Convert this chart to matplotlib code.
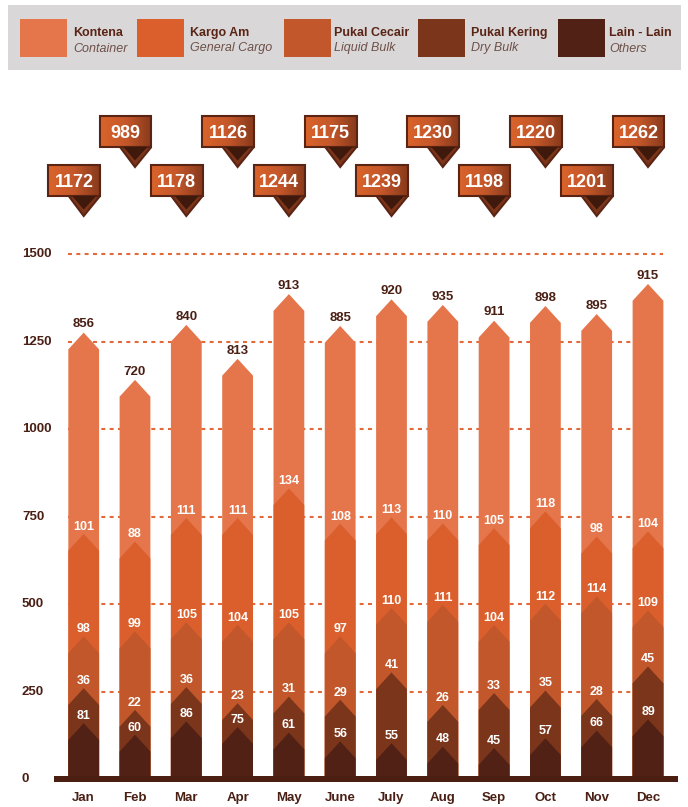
import numpy as np
import matplotlib
matplotlib.use("Agg")
import matplotlib.pyplot as plt
from matplotlib.patches import Polygon, Rectangle
from matplotlib.colors import LinearSegmentedColormap

plt.rcParams['font.family'] = ['Liberation Sans', 'DejaVu Sans']

# DATA
months = ['Jan', 'Feb', 'Mar', 'Apr', 'May', 'June', 'July', 'Aug', 'Sep', 'Oct', 'Nov', 'Dec']
kontena = [856, 720, 840, 813, 913, 885, 920, 935, 911, 898, 895, 915]
kargo_am = [101, 88, 111, 111, 134, 108, 113, 110, 105, 118, 98, 104]
pukal_cecair = [98, 99, 105, 104, 105, 97, 110, 111, 104, 112, 114, 109]
pukal_kering = [36, 22, 36, 23, 31, 29, 41, 26, 33, 35, 28, 45]
lain_lain = [81, 60, 86, 75, 61, 56, 55, 48, 45, 57, 66, 89]
totals = [1172, 989, 1178, 1126, 1244, 1175, 1239, 1230, 1198, 1220, 1201, 1262]

# the infographic is not drawn to scale: top edge of each band as drawn, on the y axis
top_kontena = [1228, 1093, 1250, 1153, 1338, 1247, 1323, 1307, 1262, 1304, 1281, 1367]
top_kargo = [653, 631, 698, 698, 783, 682, 700, 683, 669, 717, 645, 660]
top_cecair = [360, 374, 400, 393, 400, 360, 441, 450, 393, 453, 474, 434]
top_kering = [212, 150, 215, 169, 188, 179, 257, 164, 198, 205, 181, 274]
top_lain = [112, 79, 117, 101, 85, 60, 55, 45, 41, 69, 91, 123]

y_ticks = [0, 250, 500, 750, 1000, 1250, 1500]

legend_names = ['Kontena', 'Kargo Am', 'Pukal Cecair', 'Pukal Kering', 'Lain - Lain']
legend_sub = ['Container', 'General Cargo', 'Liquid Bulk', 'Dry Bulk', 'Others']

# STYLE
COLORS = ['#e5764b', '#db5f2d', '#c1572a', '#7b351b', '#522116']
DARK = '#4a1f14'
GRID = '#e2693a'
W_PX, H_PX = 688, 807

# pixel <-> data helpers (layout only)
PPU = 0.35        # px per y unit
ZERO_PX = 779.2   # y pixel of value 0 (from top)
XPX = 51.3        # px per month
X0_PX = 83.7      # x pixel of Jan centre
TOP_PX = 80       # axes top pixel


def dx(px):
    return px / XPX


def dy(px):
    return px / PPU


fig = plt.figure(figsize=(W_PX / 100, H_PX / 100), dpi=100)
ax = fig.add_axes([0, 0, 1, (H_PX - TOP_PX) / H_PX])
ax.set_xlim(-X0_PX / XPX, (W_PX - X0_PX) / XPX)
ax.set_ylim((ZERO_PX - H_PX) / PPU, (ZERO_PX - TOP_PX) / PPU)
ax.axis('off')

x = np.arange(len(months))
bar_w = 0.6
tip = 48

# GRID (behind the bars)
for t in y_ticks[1:]:
    ax.plot([-0.30, 11.29], [t, t], color=GRID, lw=1.5, ls=(0, (1.9, 2.1)), zorder=0.5,
            solid_capstyle='butt', dash_capstyle='butt')
for t in y_ticks:
    ax.text(-1.205, t, str(t), ha='left', va='center', fontsize=9.5, fontweight='bold', color=DARK)

# BARS (draw top band first, lower bands cover it)
bands = [(top_kontena, kontena), (top_kargo, kargo_am), (top_cecair, pukal_cecair),
         (top_kering, pukal_kering), (top_lain, lain_lain)]
for k, (tops, vals) in enumerate(bands):
    for i in range(len(months)):
        s = tops[i]
        verts = [(x[i] - bar_w / 2, 0), (x[i] - bar_w / 2, s), (x[i], s + tip),
                 (x[i] + bar_w / 2, s), (x[i] + bar_w / 2, 0)]
        ax.add_patch(Polygon(verts, closed=True, facecolor=COLORS[k], edgecolor='none', zorder=3 + k * 0.1))
        if k == 0:
            ax.text(x[i], s + tip + 15, str(vals[i]), ha='center', va='baseline',
                    fontsize=9.5, fontweight='bold', color=DARK, zorder=6)
        else:
            ax.text(x[i], s + tip + 12, str(vals[i]), ha='center', va='baseline',
                    fontsize=9, fontweight='bold', color='white', zorder=6)

# baseline
ax.add_patch(Rectangle((dx(54 - X0_PX), -dy(2.8)), dx(678 - 54), dy(5.8), facecolor='#4b1e12',
                       edgecolor='none', zorder=4))
for i, m in enumerate(months):
    ax.text(x[i], -dy(18.5), m, ha='center', va='center', fontsize=9.5, fontweight='bold', color=DARK)

# CALLOUTS with totals
cmap = LinearSegmentedColormap.from_list('callout', ['#da632b', '#c4572a', '#883a1c'])
grad = np.linspace(0, 1, 64).reshape(1, -1)
for i in range(len(months)):
    bottom_px = 147 if i % 2 == 1 else 196
    y_bot = (ZERO_PX - bottom_px) / PPU
    y_top = y_bot + dy(31)
    x_l = x[i] - dx(35.4)
    x_r = x[i] + dx(16.3)
    box = Rectangle((x_l, y_bot), x_r - x_l, y_top - y_bot, facecolor='none',
                    edgecolor='#5a2415', lw=1.5, zorder=8)
    ax.add_patch(box)
    im = ax.imshow(grad, cmap=cmap, extent=[x_l, x_r, y_bot, y_top], aspect='auto', zorder=7,
                   interpolation='bilinear')
    im.set_clip_path(box)
    pointer = Polygon([(x[i] - dx(15), y_bot), (x[i], y_bot - dy(20)), (x_r, y_bot)], closed=True,
                      facecolor='#7d3519', edgecolor='#5a2415', lw=1.5, zorder=8)
    ax.add_patch(pointer)
    inner = Polygon([(x[i] - dx(11.5), y_bot), (x[i], y_bot - dy(13.5)), (x[i] + dx(12.5), y_bot)],
                    closed=True, facecolor='#3e190c', edgecolor='none', zorder=9)
    ax.add_patch(inner)
    ax.text((x_l + x_r) / 2, y_bot + dy(9.3), str(totals[i]), ha='center', va='baseline',
            fontsize=13, fontweight='bold', color='white', zorder=10)

# LEGEND (figure coords)
fig.add_artist(Rectangle((8 / W_PX, 1 - 70 / H_PX), 673 / W_PX, 65 / H_PX,
                         transform=fig.transFigure, facecolor='#d9d7d7', edgecolor='none'))
sw_x = [20, 137, 284, 418, 558]
tx_x = [73.5, 190.5, 334.5, 470.5, 609]
for k in range(5):
    fig.add_artist(Rectangle((sw_x[k] / W_PX, 1 - 57 / H_PX), 47 / W_PX, 38 / H_PX,
                             transform=fig.transFigure, facecolor=COLORS[k], edgecolor='none'))
    fig.text(tx_x[k] / W_PX, 1 - 33 / H_PX, legend_names[k], ha='left', va='center',
             fontsize=9, fontweight='bold', color='#5a2416')
    fig.text(tx_x[k] / W_PX, 1 - 48.5 / H_PX, legend_sub[k], ha='left', va='center',
             fontsize=9, style='italic', color='#6e5049')

fig.savefig('out.png', dpi=100)
